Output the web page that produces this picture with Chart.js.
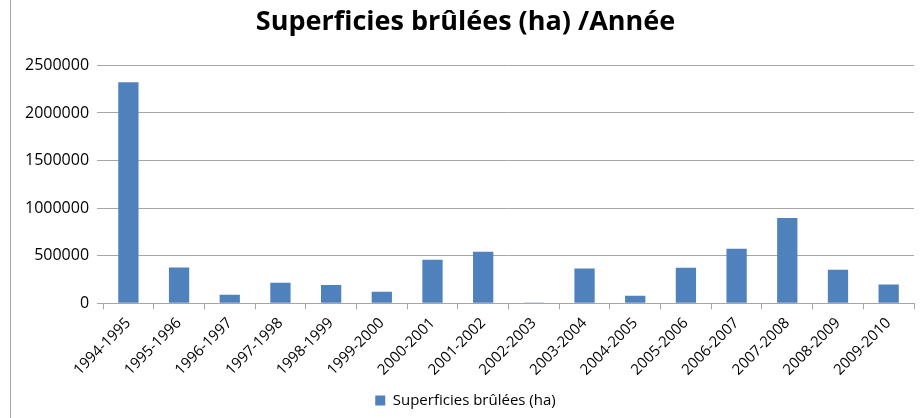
<!DOCTYPE html>
<html>
<head>
<meta charset="utf-8">
<script src="https://cdn.jsdelivr.net/npm/chart.js@4.4.1/dist/chart.umd.min.js"></script>
<style>
  html, body { margin: 0; padding: 0; background: #fff; }
  #wrap { position: relative; width: 921px; height: 418px; }
  #wrap::before { content: ''; position: absolute; left: 10px; top: 0; bottom: 0; border-left: 1px solid #a6a6a6; }
</style>
</head>
<body>
<div id="wrap"><canvas id="chart" width="921" height="418"></canvas></div>
<script>
// campagnes
const saisons = ['1994-1995', '1995-1996', '1996-1997', '1997-1998', '1998-1999', '1999-2000',
  '2000-2001', '2001-2002', '2002-2003', '2003-2004', '2004-2005', '2005-2006',
  '2006-2007', '2007-2008', '2008-2009', '2009-2010'];
// superficies brûlées (ha)
const superficies = [2322000, 377000, 91000, 216000, 192000, 122000,
  457000, 542000, 10000, 365000, 80000, 375000,
  573000, 896000, 354000, 198000];
const graduations = [0, 500000, 1000000, 1500000, 2000000, 2500000];

const police = "'Open Sans', 'Liberation Sans', sans-serif";

new Chart(document.getElementById('chart'), {
  type: 'bar',
  data: {
    labels: saisons,
    datasets: [{
      label: 'Superficies brûlées (ha)',
      data: superficies,
      backgroundColor: '#4f81bd',
      borderWidth: 0,
      barPercentage: 0.4,
      categoryPercentage: 1
    }]
  },
  options: {
    responsive: false,
    animation: false,
    devicePixelRatio: 1,
    layout: { padding: { left: 17, right: 7, top: 0, bottom: 0 } },
    plugins: {
      title: {
        display: true,
        text: 'Superficies brûlées (ha) /Année',
        color: '#000',
        font: { family: police, size: 27, weight: 'bold' },
        padding: { top: 6, bottom: 27 }
      },
      legend: {
        position: 'bottom',
        labels: {
          color: '#000',
          font: { family: police, size: 15 },
          boxWidth: 10,
          boxHeight: 10,
          padding: 9
        }
      },
      tooltip: { enabled: false }
    },
    scales: {
      x: {
        // l'étiquette inclinée ne doit pas décaler la zone de tracé
        afterFit: s => { s.paddingLeft = 0; s.paddingRight = 0; },
        grid: { display: true, offset: true, drawOnChartArea: false, color: '#a6a6a6', tickLength: 6 },
        border: { color: '#a6a6a6' },
        ticks: {
          color: '#000',
          font: { family: police, size: 15 },
          minRotation: 45,
          maxRotation: 45,
          autoSkip: false,
          padding: 5
        }
      },
      y: {
        min: 0,
        max: 2500000,
        afterBuildTicks: axis => { axis.ticks = graduations.map(v => ({ value: v })); },
        grid: { color: '#a6a6a6', tickLength: 6 },
        border: { display: false },
        ticks: {
          color: '#000',
          font: { family: police, size: 16 },
          padding: 8,
          callback: v => String(v)
        }
      }
    }
  }
});
</script>
</body>
</html>
